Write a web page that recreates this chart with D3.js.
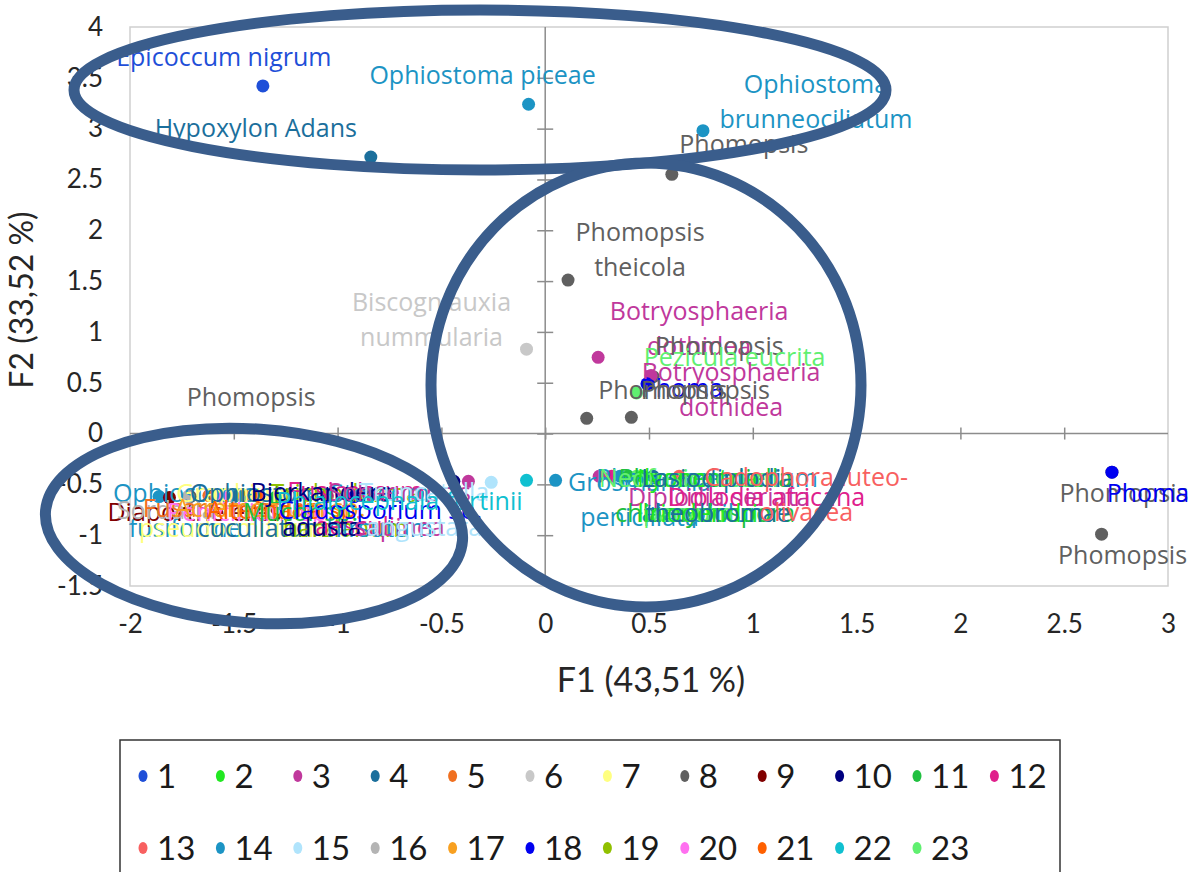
<!DOCTYPE html>
<html><head><meta charset="utf-8">
<script src="https://cdn.jsdelivr.net/npm/d3@7"></script>
<style>
html,body{margin:0;padding:0;background:#fff;}
svg{display:block;}
</style></head>
<body>
<svg id="chart" width="1193" height="872"></svg>
<script>
// ---------- DATA ----------
const seriesNames = ["1","2","3","4","5","6","7","8","9","10","11","12","13","14","15","16","17","18","19","20","21","22","23"];
const seriesColors = ["#1f4fd8","#22e822","#c0389c","#1b6f9c","#f07020","#c8c8c8","#ffff80","#606060","#800000","#000080","#20c040","#e0208c","#f86060","#1c94c4","#b0e4fc","#b4b4b4","#f8a020","#0000f0","#90c000","#ff70f0","#ff6000","#10c0d0","#60f070"];

const pointNames = [
 "Epicoccum nigrum","Ophiostoma piceae","Hypoxylon Adans","Ophiostoma\nbrunneociliatum","Phomopsis",
 "Phomopsis\ntheicola","Biscogniauxia\nnummularia","Botryosphaeria\ndothidea","Phomopsis","Pezicula eucrita",
 "Botryosphaeria\ndothidea","Phoma","Phomopsis","Phomopsis",
 "Phomopsis","Phoma","Phomopsis",
 "Grosmannia\npenicillata","Diplodia seriata","Diplodia africana","Phaeoacremonium\naleophilum","Phaeomoniella\nchlamydospora",
 "Neofusicoccum\nparvum","Ilyonectria\nliriodendri","Lasiodiplodia\ntheobromae","Cadophora luteo-\nolivacea",
 "Phomopsis","Ophiostoma\nfusiforme","Diaporthe eres","Sordaria fimicola","Fusarium solani",
 "Graphium\npseudormiticum","Penicillium sp.","Ophiostoma\ncucullatum","Acremonium sp.","Alternaria sp.",
 "Mucor sp.","Trichoderma\nharzianum","Fusicoccum\naesculi","Cladosporium sp.","Stereum\nhirsutum",
 "Bjerkandera\nadusta","Sphaeropsis\nsapinea","Truncatella\nangustata","Phialocephala fortinii"
];
const pointF1 = [
 -1.36,-0.08,-0.84,0.76,0.61,
 0.11,-0.09,0.255,0.52,0.44,
 0.51,0.49,0.20,0.415,
 2.73,2.73,2.68,
 0.05,0.26,0.32,0.36,0.40,
 0.44,0.47,0.52,0.645,
 -1.71,-1.86,-1.81,-1.72,-1.62,
 -1.58,-1.55,-1.50,-1.45,-1.38,
 -1.30,-1.05,-1.05,-0.92,-0.85,
 -0.44,-0.37,-0.26,-0.09
];
const pointF2 = [
 3.42,3.24,2.72,2.98,2.55,
 1.51,0.83,0.75,0.56,0.40,
 0.57,0.49,0.15,0.16,
 -0.38,-0.38,-0.99,
 -0.46,-0.42,-0.42,-0.42,-0.42,
 -0.42,-0.42,-0.42,-0.42,
 -0.62,-0.62,-0.63,-0.62,-0.61,
 -0.62,-0.63,-0.62,-0.61,-0.62,
 -0.63,-0.62,-0.61,-0.62,-0.62,
 -0.47,-0.47,-0.48,-0.46
];
const pointSeries = [
 1,14,4,14,8,
 8,6,3,8,23,
 3,18,8,8,
 8,18,8,
 14,3,12,14,11,
 23,2,4,13,
 8,14,9,16,5,
 7,20,4,17,21,
 11,19,12,18,14,
 10,3,15,22
];
const xTicks = [-2,-1.5,-1,-0.5,0,0.5,1,1.5,2,2.5,3];
const yTicks = [-1.5,-1,-0.5,0,0.5,1,1.5,2,2.5,3,3.5,4];
const xTitle = "F1 (43,51 %)";
const yTitle = "F2 (33,52 %)";

// ---------- LAYOUT (label offsets in px, not data) ----------
const labelDx = [
 -39,-46,-115,113,72,
 72,-95,101,66,98,
 80,35,76,74,
 12,36,21,
 84,120,155,87,77,
 52,55,65,127,
 61,26,25,27,26,
 18,27,28,26,26,
 25,18,28,26,11,
 -132,-69,-67,-127
];
const labelDy = [
 -29,-29,-29,-29,-30,
 -30,-29,-29,-30,-36,
 14,5,-28,-27,
 21,21,21,
 19,21,21,20,20,
 20,20,20,19,
 -99,14,15,14,13,
 14,15,14,13,14,
 15,14,13,14,14,
 28,28,27,21
];

// ---------- CHART ----------
const svg = d3.select("#chart");
const W = 1193, H = 872;
const plot = {left:130, right:1168, top:27, bottom:586};
const x = d3.scaleLinear().domain([-2,3]).range([plot.left, plot.right]);
const y = d3.scaleLinear().domain([-1.5,4]).range([plot.bottom, plot.top]);
const color = d3.scaleOrdinal().domain(seriesNames).range(seriesColors);

svg.append("rect").attr("width",W).attr("height",H).attr("fill","#fff");

// plot frame
svg.append("rect")
  .attr("x",plot.left).attr("y",plot.top)
  .attr("width",plot.right-plot.left).attr("height",plot.bottom-plot.top)
  .attr("fill","none").attr("stroke","#cfcfcf").attr("stroke-width",1.5);

// zero axes
const axisColor = "#8c8c8c";
svg.append("line").attr("x1",x(0)).attr("x2",x(0)).attr("y1",plot.top).attr("y2",plot.bottom)
  .attr("stroke",axisColor).attr("stroke-width",1.5);
svg.append("line").attr("x1",plot.left).attr("x2",plot.right).attr("y1",y(0)).attr("y2",y(0))
  .attr("stroke",axisColor).attr("stroke-width",1.5);

function styleTicks(g){
  g.select(".domain").remove();
  g.selectAll(".tick line").attr("stroke",axisColor).attr("stroke-width",1.5);
}
const innerY = yTicks.filter(v=>v>-1.5 && v<4);
const innerX = xTicks.filter(v=>v>-2 && v<3);
svg.append("g").attr("transform",`translate(${x(0)},0)`)
  .call(d3.axisLeft(y).tickValues(innerY).tickSize(8).tickFormat("")).call(styleTicks);
svg.append("g").attr("transform",`translate(${x(0)},0)`)
  .call(d3.axisRight(y).tickValues(innerY).tickSize(8).tickFormat("")).call(styleTicks);
svg.append("g").attr("transform",`translate(0,${y(0)})`)
  .call(d3.axisTop(x).tickValues(innerX).tickSize(6).tickFormat("")).call(styleTicks);
svg.append("g").attr("transform",`translate(0,${y(0)})`)
  .call(d3.axisBottom(x).tickValues(innerX).tickSize(6).tickFormat("")).call(styleTicks);

// tick labels
const tickFont = "Lato, 'Liberation Sans', sans-serif";
const gx = svg.append("g").attr("transform",`translate(0,${plot.bottom})`)
  .call(d3.axisBottom(x).tickValues(xTicks).tickSize(0).tickPadding(29).tickFormat(d=>String(d)));
gx.select(".domain").remove();
gx.selectAll("text").attr("font-family",tickFont).attr("font-size",26).attr("fill","#262626");

const gy = svg.append("g").attr("transform",`translate(${plot.left},0)`)
  .call(d3.axisLeft(y).tickValues(yTicks).tickSize(0).tickPadding(27).tickFormat(d=>String(d)));
gy.select(".domain").remove();
gy.selectAll("text").attr("font-family",tickFont).attr("font-size",26).attr("fill","#262626");

// axis titles
svg.append("text").attr("x",651).attr("y",680).attr("dy","0.35em")
  .attr("text-anchor","middle").attr("font-family",tickFont).attr("font-size",34).attr("fill","#262626")
  .text(xTitle);
svg.append("text").attr("transform","translate(22,300) rotate(-90)").attr("dy","0.35em")
  .attr("text-anchor","middle").attr("font-family",tickFont).attr("font-size",32).attr("fill","#262626")
  .text(yTitle);

// points
const points = pointNames.map((n,i)=>({name:n, f1:pointF1[i], f2:pointF2[i], s:String(pointSeries[i]), dx:labelDx[i], dy:labelDy[i]}));

svg.append("g").selectAll("circle").data(points).join("circle")
  .attr("cx",d=>x(d.f1)).attr("cy",d=>y(d.f2)).attr("r",6.5)
  .attr("fill",d=>color(d.s));

// labels
const labelFont = "'Open Sans', 'Noto Sans', sans-serif";
const lineH = 35;
const lbl = svg.append("g").selectAll("text").data(points).join("text")
  .attr("text-anchor","middle").attr("font-family",labelFont).attr("font-size",25)
  .attr("fill",d=>color(d.s));
lbl.each(function(d){
  const lines = d.name.split("\n");
  const cx = x(d.f1)+d.dx, cy = y(d.f2)+d.dy;
  const t = d3.select(this);
  lines.forEach((ln,j)=>{
    t.append("tspan").attr("x",cx).attr("y",cy+(j-(lines.length-1)/2)*lineH).attr("dy","0.35em").text(ln);
  });
});

// highlight ellipses
const ellipseColor = "#3a5d8c";
const ell = svg.append("g").attr("fill","none").attr("stroke",ellipseColor).attr("stroke-width",11);
ell.append("ellipse").attr("cx",480).attr("cy",90).attr("rx",406).attr("ry",80);
ell.append("ellipse").attr("cx",646).attr("cy",385).attr("rx",215).attr("ry",222);
ell.append("ellipse").attr("transform","translate(254,526) rotate(4)").attr("rx",209).attr("ry",97);

// legend
const leg = svg.append("g");
leg.append("rect").attr("x",120).attr("y",740).attr("width",940).attr("height",160)
  .attr("fill","none").attr("stroke","#333").attr("stroke-width",1.5);
const legItems = leg.selectAll("g").data(seriesNames).join("g")
  .attr("transform",(d,i)=>{
    const row = i<12?0:1, col = i<12?i:i-12;
    return `translate(${143+col*77.4},${row===0?776:848})`;
  });
legItems.append("ellipse").attr("rx",4.5).attr("ry",6).attr("fill",d=>color(d));
legItems.append("text").attr("x",14).attr("dy","0.35em")
  .attr("font-family",tickFont).attr("font-size",33).attr("fill","#1a1a1a").text(d=>d);
</script>
</body></html>
